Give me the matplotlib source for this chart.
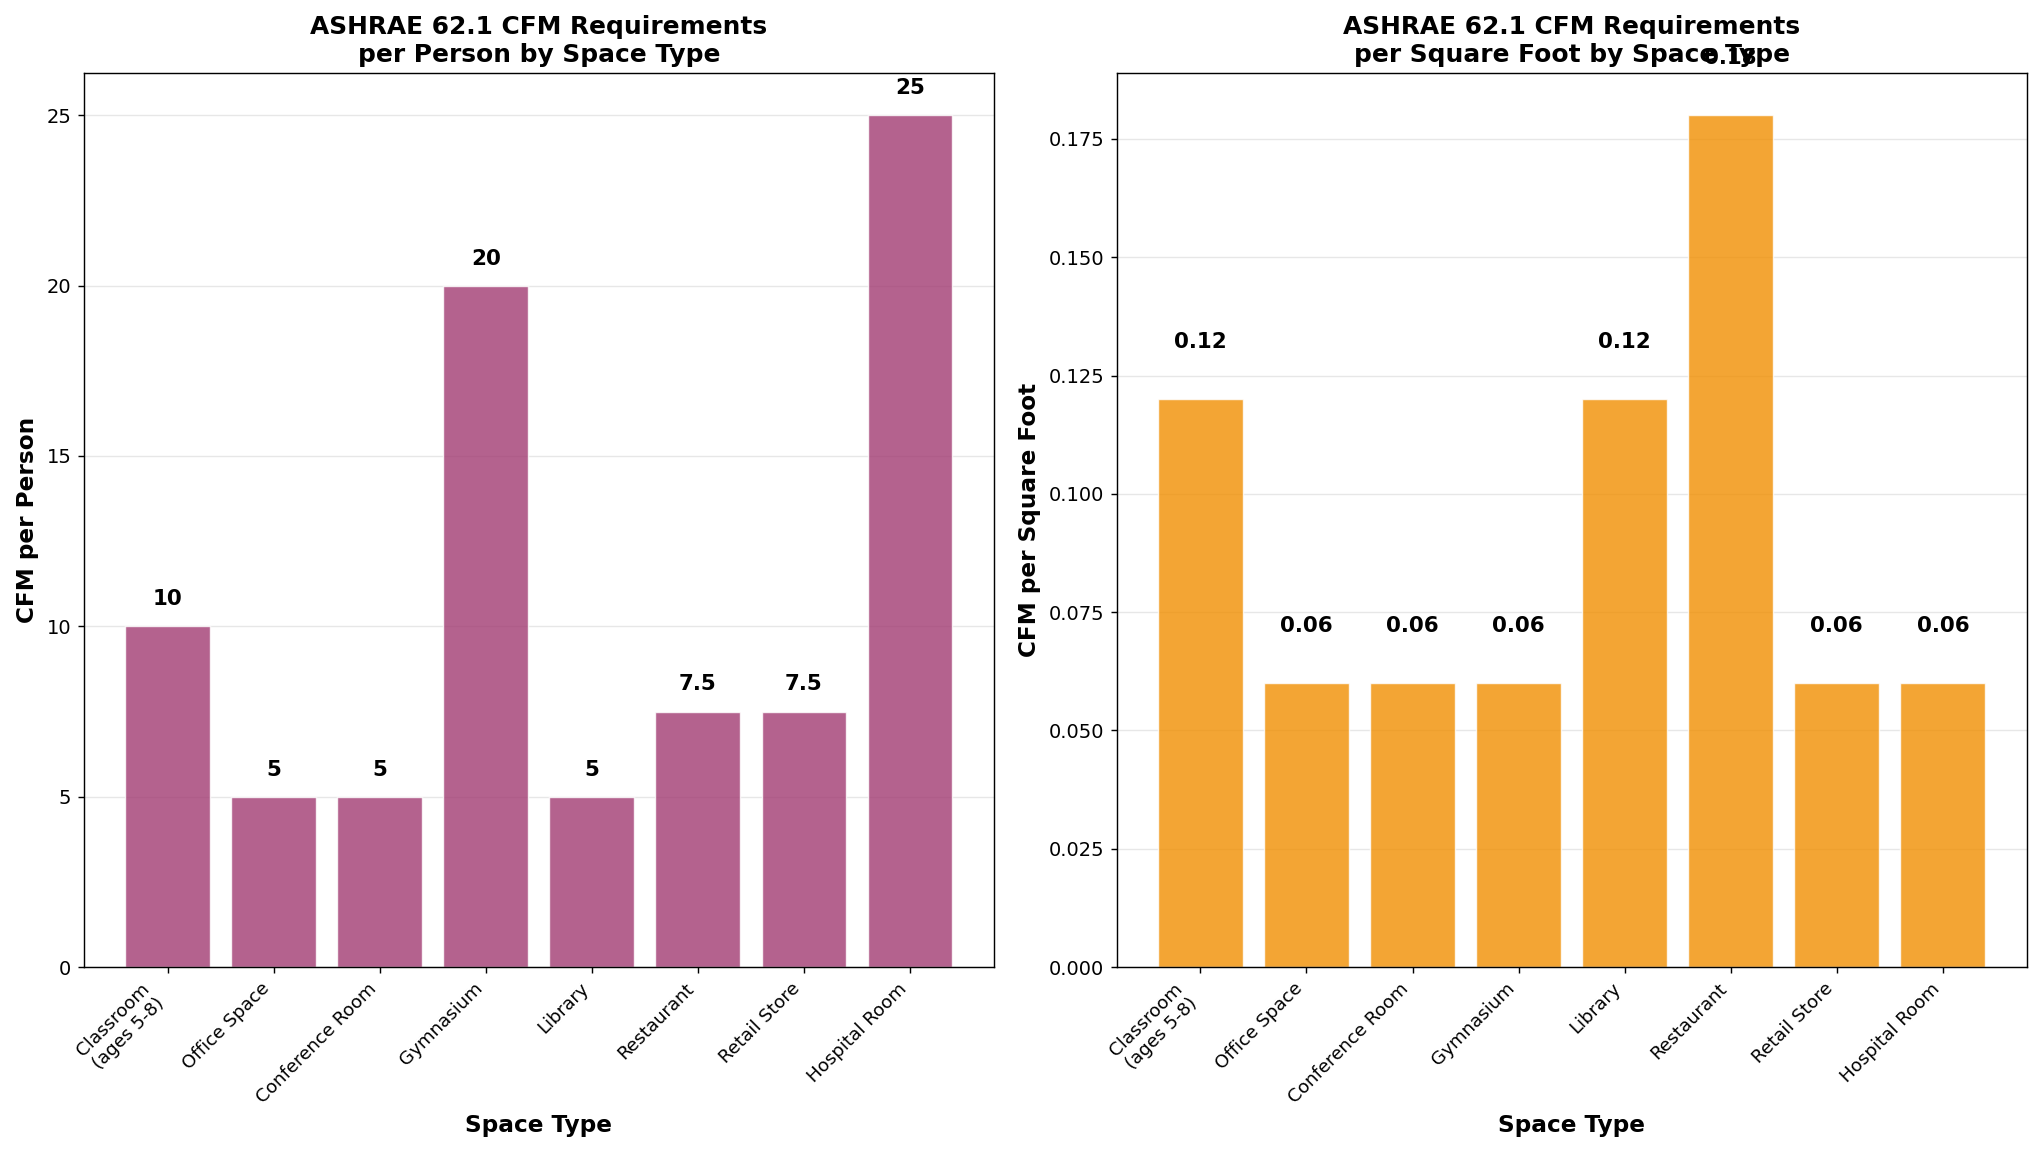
import matplotlib
matplotlib.use("Agg")
import matplotlib.pyplot as plt
import numpy as np

spaces = ["Classroom\n(ages 5-8)", "Office Space", "Conference Room", "Gymnasium",
          "Library", "Restaurant", "Retail Store", "Hospital Room"]
cfm_person = [10, 5, 5, 20, 5, 7.5, 7.5, 25]
cfm_sqft = [0.12, 0.06, 0.06, 0.06, 0.12, 0.18, 0.06, 0.06]

fig, (ax1, ax2) = plt.subplots(1, 2, figsize=(2043/128, 1154/128), dpi=128)
fig.subplots_adjust(left=0.041, right=0.992, top=0.937, bottom=0.162, wspace=0.135)

x = np.arange(len(spaces))

bars1 = ax1.bar(x, cfm_person, color="#A23B72", alpha=0.8, edgecolor="white", linewidth=0.8)
ax1.set_title("ASHRAE 62.1 CFM Requirements\nper Person by Space Type", fontsize=14, fontweight="bold")
ax1.set_xlabel("Space Type", fontsize=13, fontweight="bold", labelpad=4)
ax1.set_ylabel("CFM per Person", fontsize=13, fontweight="bold")
ax1.set_xticks(x)
ax1.set_xticklabels(spaces, rotation=45, ha="right", fontsize=10.3)
ax1.tick_params(axis="y", labelsize=11)
ax1.grid(axis="y", alpha=0.3)
ax1.set_axisbelow(True)
for b, v in zip(bars1, cfm_person):
    ax1.text(b.get_x() + b.get_width()/2, v + 0.5, f"{v:g}", ha="center", va="bottom",
             fontsize=12, fontweight="bold")

bars2 = ax2.bar(x, cfm_sqft, color="#F18F01", alpha=0.8, edgecolor="white", linewidth=0.8)
ax2.set_title("ASHRAE 62.1 CFM Requirements\nper Square Foot by Space Type", fontsize=14, fontweight="bold")
ax2.set_xlabel("Space Type", fontsize=13, fontweight="bold", labelpad=4)
ax2.set_ylabel("CFM per Square Foot", fontsize=13, fontweight="bold")
ax2.set_xticks(x)
ax2.set_xticklabels(spaces, rotation=45, ha="right", fontsize=10.3)
ax2.tick_params(axis="y", labelsize=11)
ax2.grid(axis="y", alpha=0.3)
ax2.set_axisbelow(True)
for b, v in zip(bars2, cfm_sqft):
    ax2.text(b.get_x() + b.get_width()/2, v + 0.01, f"{v:g}", ha="center", va="bottom",
             fontsize=12, fontweight="bold")

fig.savefig("out.png", dpi=128)
